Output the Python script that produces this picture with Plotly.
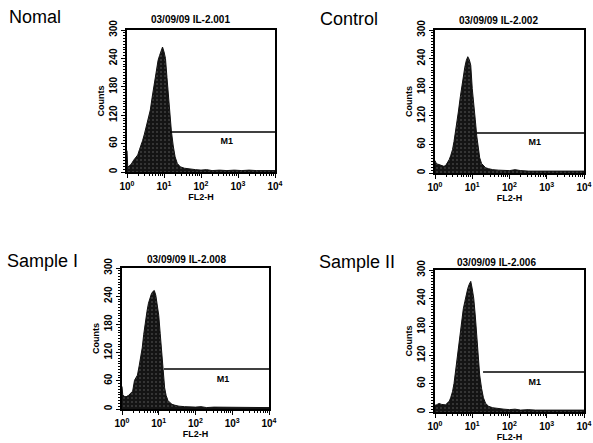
import plotly.graph_objects as go

W, H = 593, 443

# ---------------- data ----------------
panel_labels = ["Nomal", "Control", "Sample I", "Sample II"]
panel_titles = ["03/09/09 IL-2.001", "03/09/09 IL-2.002", "03/09/09 IL-2.008", "03/09/09 IL-2.006"]

# FL2-H channel positions (log10 of FL2-H) shared by the histograms
log_fl2 = [0.0, 0.02, 0.06, 0.11, 0.18, 0.24, 0.29, 0.34, 0.38, 0.42, 0.47, 0.51, 0.55,
           0.59, 0.63, 0.68, 0.72, 0.76, 0.80, 0.84, 0.88, 0.92, 0.96, 1.00, 1.04,
           1.08, 1.12, 1.16, 1.20, 1.25, 1.30, 1.36, 1.44, 1.55, 1.70, 1.85, 2.00,
           2.15, 2.30, 2.50, 2.70, 2.90, 3.10, 3.30, 3.50, 3.70, 3.90, 4.0]

counts_normal = [45, 10, 13, 16, 25, 31, 36, 48, 56, 66, 80, 92, 104, 118, 131, 158, 177,
                 205, 222, 236, 246, 256, 264, 254, 240, 200, 160, 128, 86, 55, 32, 18,
                 11, 8, 6, 5, 4, 5, 3, 4, 3, 4, 3, 4, 3, 3, 4, 3]
counts_control = [26, 22, 19, 18, 15, 14, 16, 22, 28, 36, 49, 66, 85, 108, 130, 160, 182,
                  205, 222, 236, 244, 238, 226, 177, 150, 113, 78, 55, 32, 20, 15, 11,
                  9, 7, 6, 5, 5, 7, 5, 4, 4, 5, 4, 4, 5, 4, 4, 4]
counts_sample1 = [48, 30, 27, 26, 29, 34, 38, 61, 66, 72, 93, 110, 130, 158, 183, 208,
                  225, 238, 245, 250, 252, 242, 222, 199, 160, 122, 75, 45, 29, 18, 14,
                  10, 8, 6, 5, 4, 4, 5, 3, 4, 4, 3, 4, 4, 3, 4, 4, 3]
counts_sample2 = [16, 14, 16, 18, 16, 15, 15, 20, 22, 30, 43, 60, 85, 110, 141, 170, 198,
                  218, 233, 250, 261, 270, 276, 260, 240, 205, 160, 118, 78, 50, 30, 18,
                  12, 9, 7, 6, 5, 6, 4, 5, 4, 4, 5, 4, 4, 5, 4, 4]

# M1 marker gate: start (FL2-H), end (FL2-H), height (counts); label position
m1_start = [14.5, 13.4, 13.9, 19.5]
m1_end = [10000, 10000, 10000, 10000]
m1_level = [84.5, 84, 85, 84.5]
m1_label_x = [500, 480, 560, 480]
m1_label_y = [63, 63, 62, 61]

x_tick_vals = [1, 10, 100, 1000, 10000]
x_tick_text = ["10<sup>0</sup>", "10<sup>1</sup>", "10<sup>2</sup>", "10<sup>3</sup>", "10<sup>4</sup>"]
y_tick_vals = [0, 60, 120, 180, 240, 300]

# ---------------- layout geometry (pixels) ----------------
boxes = [  # left, right, top, bottom
    (127, 275, 30, 172),
    (435, 584, 30, 173),
    (122, 269, 268, 409),
    (435, 584, 270, 412),
]
title_pos = [(190, 20), (498, 21), (186, 259), (496, 262)]
label_pos = [(7, 17), (318, 19), (5, 261), (317, 262)]


def px(x):
    return x / W


def py(y):
    return 1 - y / H


fl2 = [10 ** v for v in log_fl2]
series = [counts_normal, counts_control, counts_sample1, counts_sample2]

fig = go.Figure()
FONT = "Liberation Sans Narrow, Arial Narrow, Liberation Sans, Arial"
minor_vals = [m * 10 ** k for k in range(4) for m in range(2, 10)]

for i in range(4):
    xa = "x" if i == 0 else f"x{i+1}"
    ya = "y" if i == 0 else f"y{i+1}"
    fig.add_trace(go.Scatter(
        x=fl2, y=series[i], xaxis=xa, yaxis=ya, mode="lines",
        line=dict(color="#111111", width=1),
        fill="tozeroy",
        fillpattern=dict(shape=".", bgcolor="#141414", fgcolor="#6a6a6a", size=4, solidity=0.2),
        showlegend=False, hoverinfo="skip", cliponaxis=True))
    fig.add_trace(go.Scatter(
        x=[m1_start[i], m1_end[i]], y=[m1_level[i], m1_level[i]], xaxis=xa, yaxis=ya,
        mode="lines", line=dict(color="black", width=1.5), showlegend=False, hoverinfo="skip"))
    fig.add_trace(go.Scatter(
        x=[m1_label_x[i]], y=[m1_label_y[i]], xaxis=xa, yaxis=ya, mode="text",
        text=["M1"], textfont=dict(family=FONT, size=9, color="black", weight="bold"),
        showlegend=False, hoverinfo="skip"))

    l, r, t, b = boxes[i]
    xkey = "xaxis" if i == 0 else f"xaxis{i+1}"
    ykey = "yaxis" if i == 0 else f"yaxis{i+1}"
    fig.layout[xkey] = dict(
        type="log", range=[0, 4], domain=[px(l), px(r)], anchor=ya, automargin=False,
        tickvals=x_tick_vals, ticktext=x_tick_text, ticks="outside", ticklen=4,
        ticklabeloverflow="allow",
        tickcolor="black", showline=True, mirror=True, linecolor="black", linewidth=1.5,
        showgrid=False, zeroline=False,
        minor=dict(tickvals=minor_vals, ticks="outside", ticklen=2, tickcolor="black", showgrid=False),
        tickfont=dict(family=FONT, size=10, color="black", weight="bold"),
        title=dict(text="FL2-H", font=dict(family=FONT, size=9, color="black", weight="bold"), standoff=0),
    )
    fig.layout[ykey] = dict(
        range=[0, 300], domain=[py(b), py(t)], anchor=xa, automargin=False,
        tickvals=y_tick_vals, ticks="outside", ticklen=4, tickangle=-90,
        ticklabeloverflow="allow",
        tickcolor="black", showline=True, mirror=True, linecolor="black", linewidth=1.5,
        showgrid=False, zeroline=False,
        minor=dict(dtick=6, ticks="outside", ticklen=2, tickcolor="black", showgrid=False),
        tickfont=dict(family=FONT, size=10, color="black", weight="bold"),
        title=dict(text="Counts", font=dict(family=FONT, size=9, color="black", weight="bold"), standoff=2),
    )

annotations = []
for i in range(4):
    tx, ty = title_pos[i]
    annotations.append(dict(x=px(tx), y=py(ty), xref="paper", yref="paper", text=panel_titles[i],
                            showarrow=False, xanchor="center", yanchor="middle",
                            font=dict(family=FONT, size=10, color="black", weight="bold")))
    lx, ly = label_pos[i]
    annotations.append(dict(x=px(lx), y=py(ly), xref="paper", yref="paper", text=panel_labels[i],
                            showarrow=False, xanchor="left", yanchor="middle",
                            font=dict(family="Liberation Sans, Arial", size=18, color="black")))

fig.update_layout(
    width=W, height=H, margin=dict(l=0, r=0, t=0, b=0, autoexpand=False),
    paper_bgcolor="white", plot_bgcolor="white",
    annotations=annotations,
)

fig.write_html("out.html", config={"displayModeBar": False},
               post_script="document.body.style.margin='0';")
